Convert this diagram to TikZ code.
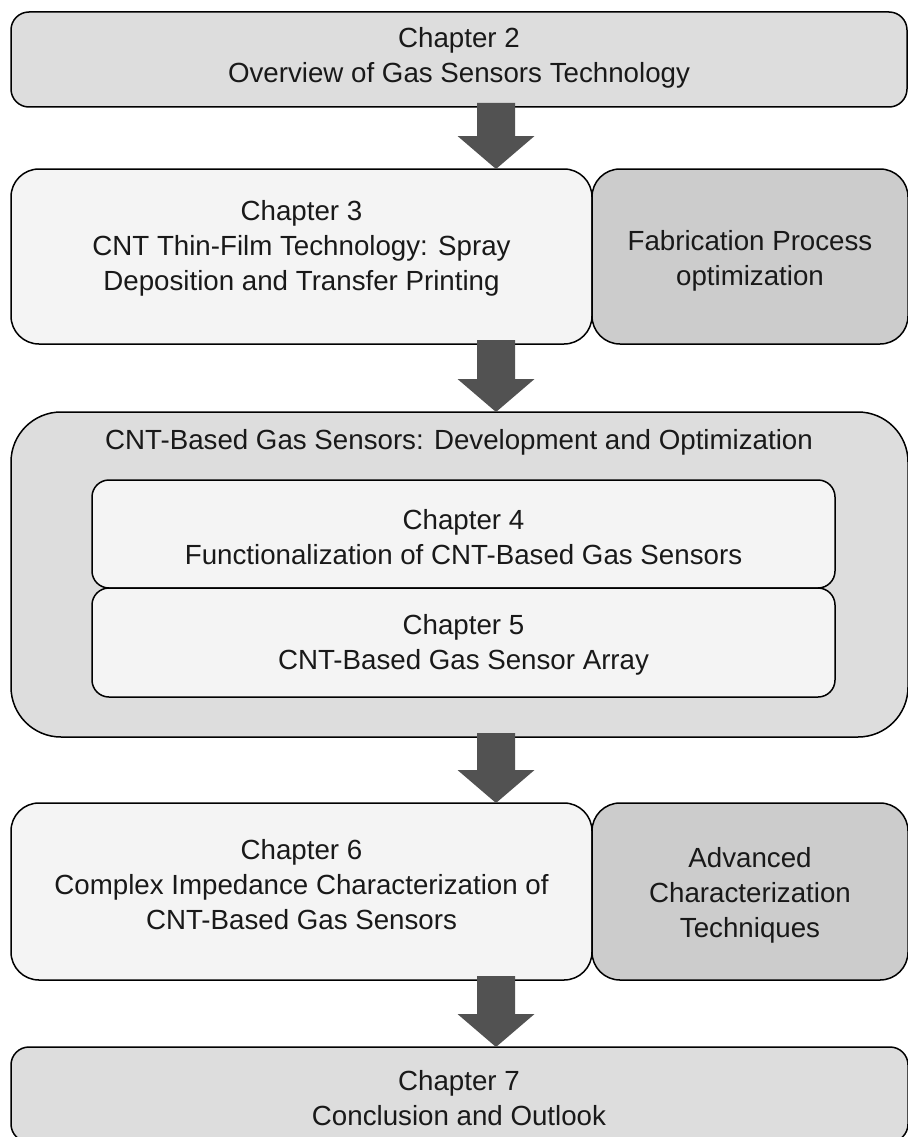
\documentclass[tikz,border=0pt]{standalone}
\usepackage{fontspec}
\setmainfont{Liberation Sans}
\usetikzlibrary{calc}
\definecolor{boxdark}{HTML}{DDDDDD}
\definecolor{boxlight}{HTML}{F4F4F4}
\definecolor{boxside}{HTML}{CCCCCC}
\definecolor{arrowc}{HTML}{525252}
\newcommand{\bigarrow}[2]{%
  \fill[arrowc] ($(ax|-#1.south)+(-19,-4)$) -- ($(ax|-#2.north)+(-19,-33)$)
    -- ($(ax|-#2.north)+(-38.5,-33)$) -- (ax|-#2.north)
    -- ($(ax|-#2.north)+(38.5,-33)$) -- ($(ax|-#2.north)+(19,-33)$)
    -- ($(ax|-#1.south)+(19,-4)$) -- cycle;}
\begin{document}
\begin{tikzpicture}[x=1pt,y=-1pt,
  box/.style={draw=black, line width=1.5pt, rectangle, inner sep=0pt, outer sep=0pt},
  darkbox/.style={box, fill=boxdark, rounded corners=18pt},
  lightbox/.style={box, fill=boxlight, rounded corners=28pt},
  sidebox/.style={box, fill=boxside, rounded corners=28pt},
  groupbox/.style={box, fill=boxdark, rounded corners=50pt},
  innerbox/.style={box, fill=boxlight, rounded corners=17pt},
  txt/.style={align=center, inner sep=0pt, font=\fontsize{27.7}{35}\selectfont, text=black!90}
]
\useasboundingbox (0,0) rectangle (907,1137);
\fill[white] (0,0) rectangle (907,1137);
\coordinate (ax) at (496,0);

% boxes
\node[darkbox, minimum width=896pt, minimum height=95pt] (c2) at (459,59.5) {};
\node[lightbox, minimum width=581pt, minimum height=175pt] (c3) at (301.5,256.5) {};
\node[sidebox, minimum width=316pt, minimum height=175pt] (fab) at (750,256.5) {};
\node[groupbox, minimum width=897pt, minimum height=325pt] (grp) at (459.5,574.5) {};
\node[innerbox, minimum width=743pt, minimum height=108pt] (c4) at (463.5,534) {};
\node[innerbox, minimum width=743pt, minimum height=109pt] (c5) at (463.5,642.5) {};
\node[lightbox, minimum width=581pt, minimum height=177pt] (c6) at (301.5,891.5) {};
\node[sidebox, minimum width=316pt, minimum height=177pt] (adv) at (750,891.5) {};
\node[darkbox, minimum width=897pt, minimum height=95pt] (c7) at (459.5,1094.5) {};

% texts
\node[txt] (t2) at (459,58) {Chapter 2\\Overview of Gas Sensors Technology};
\node[txt] (t3) at (301.5,248) {Chapter 3\\CNT Thin-Film Technology: Spray\\Deposition and Transfer Printing};
\node[txt] (tfab) at (750,261) {Fabrication Process\\optimization};
\node[txt] (tgrp) at (459,442) {CNT-Based Gas Sensors: Development and Optimization};
\node[txt] (t4) at (463.5,537) {Chapter 4\\Functionalization of CNT-Based Gas Sensors};
\node[txt] (t5) at (463.5,645) {Chapter 5\\CNT-Based Gas Sensor Array};
\node[txt] (t6) at (301.5,885) {Chapter 6\\Complex Impedance Characterization of\\CNT-Based Gas Sensors};
\node[txt] (tadv) at (750,895) {Advanced\\Characterization\\Techniques};
\node[txt] (t7) at (459,1098) {Chapter 7\\Conclusion and Outlook};

% arrows
\bigarrow{c2}{c3}
\bigarrow{c3}{grp}
\bigarrow{grp}{c6}
\bigarrow{c6}{c7}
\end{tikzpicture}
\end{document}
